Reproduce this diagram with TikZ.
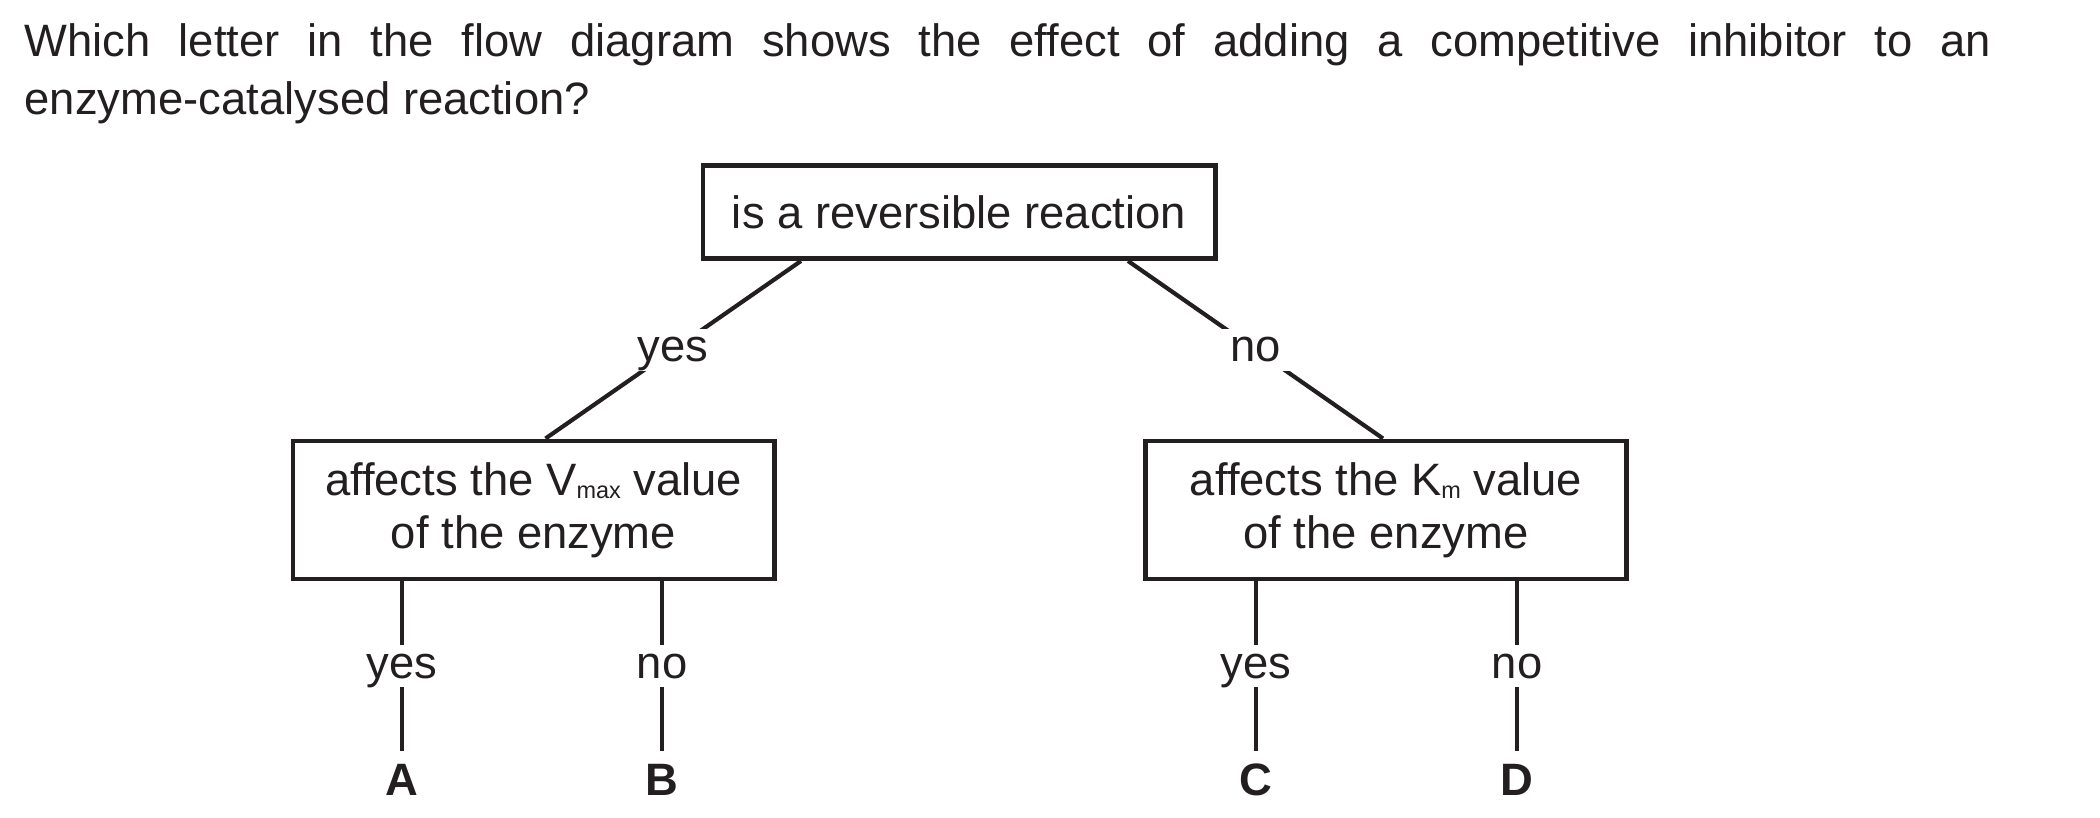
\documentclass[tikz,border=0pt]{standalone}
\usepackage{fontspec}
\setmainfont{Liberation Sans}
\usepackage{xcolor}
\usetikzlibrary{positioning, calc}
\definecolor{ink}{HTML}{231F20}
\newcommand{\lowsub}[1]{\raisebox{-0.9pt}{\fontsize{6.2}{7}\selectfont #1}}
\tikzset{
    quest/.style = {draw=ink, line width=1.3pt, align=center, inner sep=0pt,
                    font=\fontsize{12}{14}\selectfont},
    leaf/.style  = {font=\fontsize{12}{14}\selectfont\bfseries, inner sep=2.9pt, text height=8.6pt, text depth=0pt},
    ans/.style   = {fill=white, inner sep=2.4pt, text height=6.3pt, text depth=0pt,
                    font=\fontsize{12}{14}\selectfont},
    lig/.style   = {line width=1.1pt, ink},
}

\begin{document}
\begin{tikzpicture}[x=0.2644pt, y=-0.2644pt, color=ink]
    \useasboundingbox (0,0) rectangle (2100,818);
    \node[anchor=north west, inner sep=0pt, text width=520pt, align=justify,
          font=\fontsize{12}{15.2}\selectfont] (title) at (24,23)
          {Which letter in the flow diagram shows the effect of adding a competitive inhibitor to an\linebreak enzyme-catalysed reaction?};
    % question boxes
    \node[quest, minimum width=135.4pt, minimum height=24.6pt] (rev) at (959,212) {is a reversible reaction};
    \node[quest, minimum width=127.2pt, minimum height=36.5pt] (vmax) at (533.5,510) {affects the V\lowsub{max} value\\of the enzyme};
    \node[quest, minimum width=127.2pt, minimum height=36.5pt] (km) at (1386,510) {affects the K\lowsub{m} value\\of the enzyme};
    \draw[lig] ($(rev.south)+(-158,0)$) -- node[ans]{yes} ($(vmax.north)+(12,0)$);
    \draw[lig] ($(rev.south)+(169,0)$) -- node[ans]{no} ($(km.north)+(-3,0)$);
    % answers
    \node[leaf] (A) at (402,779) {A};
    \node[leaf] (B) at (662,779) {B};
    \node[leaf] (C) at (1256,779) {C};
    \node[leaf] (D) at (1517,779) {D};
    \draw[lig] (vmax.south -| A) -- node[ans]{yes} (A);
    \draw[lig] (vmax.south -| B) -- node[ans]{no} (B);
    \draw[lig] (km.south -| C) -- node[ans]{yes} (C);
    \draw[lig] (km.south -| D) -- node[ans]{no} (D);
\end{tikzpicture}
\end{document}
